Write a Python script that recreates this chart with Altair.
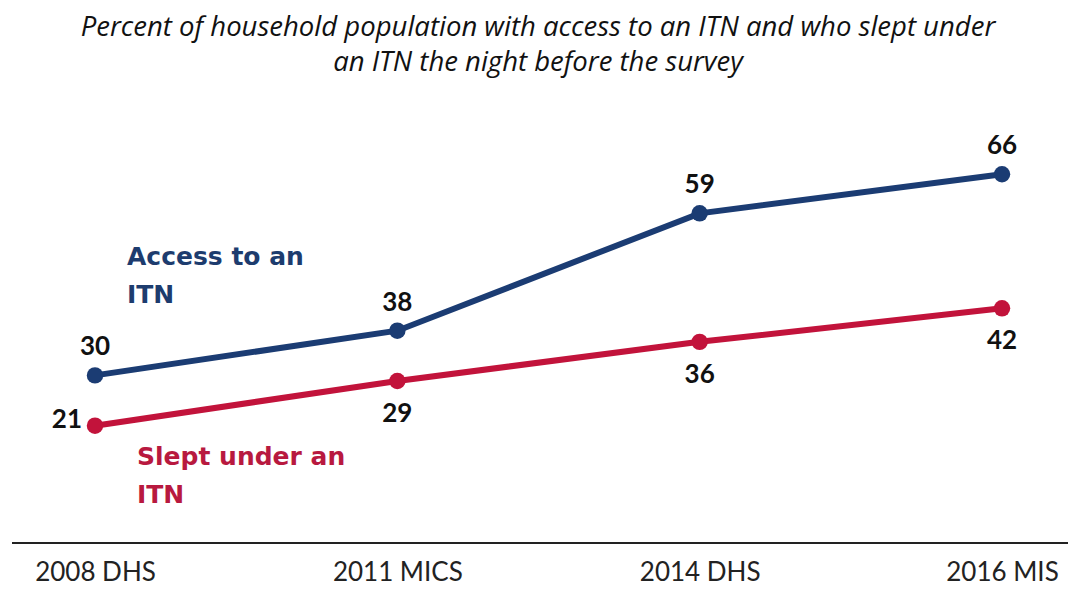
import altair as alt
import pandas as pd

surveys = ["2008 DHS", "2011 MICS", "2014 DHS", "2016 MIS"]
access = [30, 38, 59, 66]
slept = [21, 29, 36, 42]
series_names = ["Access to an ITN", "Slept under an ITN"]
series_colors = ["#1b3c73", "#c2133b"]
title_lines = ["Percent of household population with access to an ITN and who slept under",
               "an ITN the night before the survey"]

rows = []
for s, a, b in zip(surveys, access, slept):
    rows.append({"survey": s, "series": series_names[0], "value": a})
    rows.append({"survey": s, "series": series_names[1], "value": b})
df = pd.DataFrame(rows)

W, H = 1060, 447
xscale = alt.Scale(type="point", range=[87, 994], padding=0)
yscale = alt.Scale(domain=[0, 80], nice=False, zero=True)

x = alt.X("survey:N", sort=surveys, scale=xscale,
          axis=alt.Axis(title=None, domain=False, ticks=False, labelAngle=0,
                        labelFont="Lato", labelFontSize=26, labelColor="#222222",
                        labelBaseline="alphabetic", labelPadding=37))
y = alt.Y("value:Q", scale=yscale, axis=None)
color = alt.Color("series:N", scale=alt.Scale(domain=series_names, range=series_colors), legend=None)

base = alt.Chart(df)

axis_line = alt.Chart(pd.DataFrame({"v": [0]})).mark_rule(color="#222222", strokeWidth=2).encode(
    y=alt.Y("v:Q", scale=yscale, axis=None),
    x=alt.value(4), x2=alt.value(1060))

lines = base.mark_line(strokeWidth=6).encode(x=x, y=y, color=color)
points = base.mark_circle(size=270, opacity=1).encode(x=x, y=y, color=color)

lab_font = dict(font="Lato", fontSize=26, fontWeight="bold", color="#111111", baseline="alphabetic")
access_labels = base.transform_filter(alt.datum.series == series_names[0]).mark_text(
    align="center", dy=-20, **lab_font).encode(x=x, y=y, text="value:Q")
slept_first = base.transform_filter(
    (alt.datum.series == series_names[1]) & (alt.datum.survey == surveys[0])).mark_text(
    align="right", dx=-13, dy=2, **lab_font).encode(x=x, y=y, text="value:Q")
slept_rest = base.transform_filter(
    (alt.datum.series == series_names[1]) & (alt.datum.survey != surveys[0])).mark_text(
    align="center", dy=41, **lab_font).encode(x=x, y=y, text="value:Q")

ann_font = dict(font="DejaVu Sans", fontSize=25, fontWeight="bold", baseline="alphabetic",
                align="left", lineBreak="\n", lineHeight=38)
ann_access = alt.Chart(pd.DataFrame({"t": ["Access to an\nITN"]})).mark_text(
    dx=32, dy=1, color="#1d3c6e", **ann_font).encode(
    x=alt.X("survey:N", sort=surveys, scale=xscale),
    y=alt.Y("v:Q", scale=yscale), text="t:N").transform_calculate(survey="'2008 DHS'", v="50")
ann_slept = alt.Chart(pd.DataFrame({"t": ["Slept under an\nITN"]})).mark_text(
    dx=42, dy=0, color="#b8193f", **ann_font).encode(
    x=alt.X("survey:N", sort=surveys, scale=xscale),
    y=alt.Y("v:Q", scale=yscale), text="t:N").transform_calculate(survey="'2008 DHS'", v="14")

chart = alt.layer(axis_line, lines, points, access_labels, slept_first, slept_rest,
                  ann_access, ann_slept).properties(
    width=W, height=H,
    background="white",
    autosize=alt.AutoSizeParams(type="none"),
    padding={"left": 0, "top": 88, "right": 0, "bottom": 42},
    title=alt.TitleParams(text=title_lines, font="Open Sans", fontSize=27.5, fontStyle="italic",
                          fontWeight="normal", color="#111111", anchor="middle", lineHeight=35,
                          offset=20),
).configure_view(strokeWidth=0, stroke="transparent")

chart.save("out.html", embed_options={"renderer": "svg", "actions": False})
